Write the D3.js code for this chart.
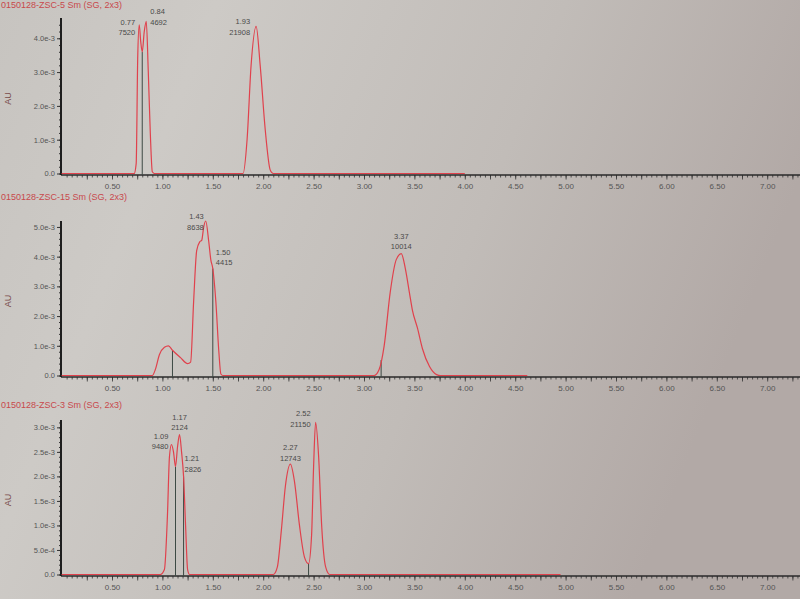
<!DOCTYPE html>
<html>
<head>
<meta charset="utf-8">
<script src="https://cdn.jsdelivr.net/npm/d3@7"></script>
<style>
  body { margin: 0; background: #c6c2be; }
  svg { display: block; }
</style>
</head>
<body>
<svg width="800" height="599"></svg>
<script>
// --- data (time in min, signal in AU) ---
const titles = ["0150128-ZSC-5 Sm (SG, 2x3)", "0150128-ZSC-15 Sm (SG, 2x3)", "0150128-ZSC-3 Sm (SG, 2x3)"];

// trace points [min, AU*1e3]
const trace1 = [[0,0],[0.72,0],[0.74,0.3],[0.755,3.4],[0.77,4.4],[0.785,3.9],[0.80,3.6],[0.82,4.2],[0.84,4.5],[0.86,3.0],
  [0.88,1.2],[0.90,0.05],[0.92,0],[1.80,0],[1.84,1.0],[1.88,3.2],[1.93,4.35],[1.97,3.2],[2.02,1.3],[2.07,0.1],[2.10,0],[4.00,0]];
const trace2 = [[0,0],[0.90,0],[0.93,0.2],[0.97,0.7],[1.02,0.95],[1.06,1.0],[1.10,0.85],[1.18,0.6],[1.25,0.4],[1.28,0.45],
  [1.31,2.5],[1.34,4.2],[1.37,4.5],[1.39,4.55],[1.41,5.0],[1.43,5.2],[1.46,4.5],[1.48,3.9],[1.50,3.6],[1.53,2.5],[1.56,0.8],
  [1.58,0.05],[1.60,0],[3.10,0],[3.15,0.2],[3.20,1.0],[3.26,2.8],[3.32,3.9],[3.37,4.1],[3.41,3.6],[3.45,2.8],[3.48,2.2],
  [3.53,1.6],[3.58,0.9],[3.65,0.3],[3.72,0.03],[3.76,0],[4.62,0]];
const trace3 = [[0,0],[0.98,0],[1.02,0.1],[1.05,1.2],[1.07,2.4],[1.09,2.65],[1.11,2.5],[1.13,2.2],[1.15,2.6],[1.17,2.85],
  [1.19,2.5],[1.21,2.0],[1.23,1.0],[1.25,0.1],[1.27,0],[2.10,0],[2.14,0.15],[2.18,0.9],[2.22,1.8],[2.27,2.25],[2.31,1.9],
  [2.36,1.0],[2.41,0.35],[2.45,0.22],[2.48,0.8],[2.50,2.2],[2.52,3.1],[2.55,2.4],[2.58,1.0],[2.62,0.15],[2.66,0],[4.95,0]];

// peak labels: retention time and area
const peaks1 = [[0.77, 7520], [0.84, 4692], [1.93, 21908]];
const peaks2 = [[1.43, 8638], [1.50, 4415], [3.37, 10014]];
const peaks3 = [[1.09, 9480], [1.17, 2124], [1.21, 2826], [2.27, 12743], [2.52, 21150]];

// integration drop lines (min)
const drops1 = [0.80];
const drops2 = [1.10, 1.50, 3.17];
const drops3 = [1.13, 1.21, 2.45];

// y tick values (AU)
const yTicks1 = [0, 1e-3, 2e-3, 3e-3, 4e-3];
const yTicks2 = [0, 1e-3, 2e-3, 3e-3, 4e-3, 5e-3];
const yTicks3 = [0, 5e-4, 1e-3, 1.5e-3, 2e-3, 2.5e-3, 3e-3];
const xLabels = d3.range(0.5, 7.01, 0.5);

// --- layout ---
const svg = d3.select("svg");
const defs = svg.append("defs");
const grad = defs.append("linearGradient").attr("id", "bg").attr("x1", "0").attr("x2", "1").attr("y1", "0").attr("y2", "0.3");
grad.append("stop").attr("offset", "0%").attr("stop-color", "#c7c4c0");
grad.append("stop").attr("offset", "25%").attr("stop-color", "#cdcac6");
grad.append("stop").attr("offset", "65%").attr("stop-color", "#c1bcb8");
grad.append("stop").attr("offset", "100%").attr("stop-color", "#b2a9a6");
svg.append("rect").attr("width", 800).attr("height", 599).attr("fill", "url(#bg)");

const x = d3.scaleLinear().domain([0, 7.4]).range([61.6, 61.6 + 7.4 * 100.8]);

const panels = [
  { title: titles[0], titleY: 8, axisY: 175, top: 18, yMax: 4.6e-3, ticks: yTicks1, trace: trace1, peaks: peaks1, drops: drops1,
    place: [["end", -4, 0], ["start", 4, -7], ["end", -6, -2]] },
  { title: titles[1], titleY: 200, axisY: 377, top: 221, yMax: 5.2e-3, ticks: yTicks2, trace: trace2, peaks: peaks2, drops: drops2,
    place: [["end", -2, -2], ["start", 3, -14], ["middle", 0, -15]] },
  { title: titles[2], titleY: 408, axisY: 576, top: 420, yMax: 3.15e-3, ticks: yTicks3, trace: trace3, peaks: peaks3, drops: drops3,
    place: [["end", -3, -6], ["middle", 0, -15], ["start", 1, -15], ["middle", 0, -14], ["end", -5, -6]] }
];

const font = "Liberation Sans, Arial, sans-serif";
const ink = "#4a4a4a";

function valueAt(trace, t) {
  const i = d3.bisector(d => d[0]).left(trace, t);
  if (i <= 0) return trace[0][1];
  if (i >= trace.length) return trace[trace.length - 1][1];
  const a = trace[i - 1], b = trace[i];
  return a[1] + (b[1] - a[1]) * (t - a[0]) / (b[0] - a[0]);
}

panels.forEach(p => {
  const g = svg.append("g");
  const y = d3.scaleLinear().domain([0, p.yMax]).range([p.axisY - 1.5, p.top]);

  // title
  g.append("text").attr("x", 1).attr("y", p.titleY).text(p.title)
    .attr("font-family", font).attr("font-size", 9).attr("fill", "#c8484c");

  // AU label
  g.append("text").attr("transform", `translate(11,${(p.axisY + p.top) / 2 + 2}) rotate(-90)`)
    .attr("text-anchor", "middle").text("AU")
    .attr("font-family", font).attr("font-size", 9).attr("fill", "#7a4c4c");

  // x axis: minor, medium and labelled ticks
  const minor = d3.range(0.05, 7.4, 0.05);
  g.append("g").attr("transform", `translate(0,${p.axisY})`)
    .call(d3.axisBottom(x).tickValues(minor).tickSize(2.5).tickFormat(""))
    .call(a => a.select(".domain").remove());
  g.append("g").attr("transform", `translate(0,${p.axisY})`)
    .call(d3.axisBottom(x).tickValues(d3.range(0.25, 7.4, 0.25)).tickSize(4.5).tickFormat(""))
    .call(a => a.select(".domain").remove());
  const xa = g.append("g").attr("transform", `translate(0,${p.axisY})`)
    .call(d3.axisBottom(x).tickValues(xLabels).tickSize(0).tickPadding(8).tickFormat(d3.format(".2f")));
  xa.select(".domain").remove();
  xa.selectAll("text").attr("font-family", font).attr("font-size", 8).attr("fill", "#555");
  g.selectAll(".tick line").attr("stroke", "#333").attr("stroke-width", 0.8);
  g.append("line").attr("x1", 61).attr("x2", 800).attr("y1", p.axisY).attr("y2", p.axisY)
    .attr("stroke", "#2a2a2a").attr("stroke-width", 1.6);

  // y axis
  const step = p.ticks[1] - p.ticks[0];
  const yMinor = d3.range(0, p.yMax, step / 5);
  g.append("g").attr("transform", "translate(61,0)")
    .call(d3.axisLeft(y).tickValues(yMinor).tickSize(2).tickFormat(""))
    .call(a => a.select(".domain").remove())
    .selectAll("line").attr("stroke", "#333");
  const ya = g.append("g").attr("transform", "translate(61,0)")
    .call(d3.axisLeft(y).tickValues(p.ticks).tickSize(4).tickPadding(2)
      .tickFormat(v => v === 0 ? "0.0" : v.toExponential(1)));
  ya.select(".domain").remove();
  ya.selectAll("line").attr("stroke", "#333");
  ya.selectAll("text").attr("font-family", font).attr("font-size", 7.5).attr("fill", "#555");
  g.append("line").attr("x1", 61).attr("x2", 61).attr("y1", p.top).attr("y2", p.axisY)
    .attr("stroke", "#1e1e1e").attr("stroke-width", 2);

  // drop lines
  g.selectAll(".drop").data(p.drops).join("line")
    .attr("x1", d => x(d)).attr("x2", d => x(d))
    .attr("y1", p.axisY).attr("y2", d => y(valueAt(p.trace, d) * 1e-3))
    .attr("stroke", "#3d4a44").attr("stroke-width", 1);

  // trace
  const line = d3.line().x(d => x(d[0])).y(d => y(d[1] * 1e-3)).curve(d3.curveMonotoneX);
  g.append("path").datum(p.trace).attr("d", line)
    .attr("fill", "none").attr("stroke", "#e0414c").attr("stroke-width", 1.2);

  // peak labels
  p.peaks.forEach((pk, i) => {
    const [anchor, dx, dy] = p.place[i];
    const px = x(pk[0]) + dx;
    const py = y(valueAt(p.trace, pk[0]) * 1e-3) + dy;
    const t = g.append("text").attr("text-anchor", anchor)
      .attr("font-family", font).attr("font-size", 7.5).attr("fill", ink);
    t.append("tspan").attr("x", px).attr("y", py).text(pk[0].toFixed(2));
    t.append("tspan").attr("x", px).attr("y", py + 10.5).text(pk[1]);
  });
});
</script>
</body>
</html>
